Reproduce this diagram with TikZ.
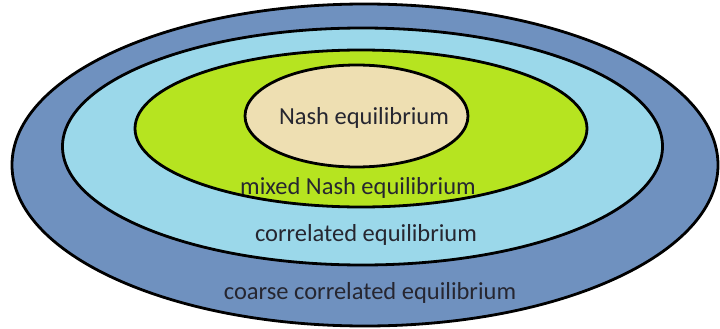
\documentclass[tikz,border=0pt]{standalone}
\usepackage{fontspec}
\setmainfont{Carlito}
\usepackage{xcolor}
\definecolor{coarseblue}{RGB}{111,145,191}
\definecolor{corrblue}{RGB}{155,216,234}
\definecolor{mixgreen}{RGB}{182,228,32}
\definecolor{nashbeige}{RGB}{238,223,178}
\definecolor{labelgray}{RGB}{38,38,48}
\tikzset{ring/.style={draw=black,line width=2.8pt},
  setlabel/.style={text=labelgray,inner sep=0pt}}

\begin{document}
\begin{tikzpicture}[x=1pt,y=-1pt,font=\fontsize{24.5}{29}\selectfont,line cap=round]
\useasboundingbox (0,0) rectangle (720,329);
\fill[white] (0,0) rectangle (720,329);
\draw[ring,fill=coarseblue] (365,165) ellipse [x radius=353,y radius=161];
\draw[ring,fill=corrblue] (362.5,146.5) ellipse [x radius=300,y radius=118.5];
\draw[ring,fill=mixgreen] (361,128.5) ellipse [x radius=226,y radius=78.5];
\draw[ring,fill=nashbeige] (356.5,116) ellipse [x radius=111.5,y radius=51];
\node[setlabel] (nash) at (364,118) {Nash equilibrium};
\node[setlabel] (mixed) at (358,188) {mixed Nash equilibrium};
\node[setlabel] (corr) at (366,235) {correlated equilibrium};
\node[setlabel] (coarse) at (370,293) {coarse correlated equilibrium};
\end{tikzpicture}
\end{document}
